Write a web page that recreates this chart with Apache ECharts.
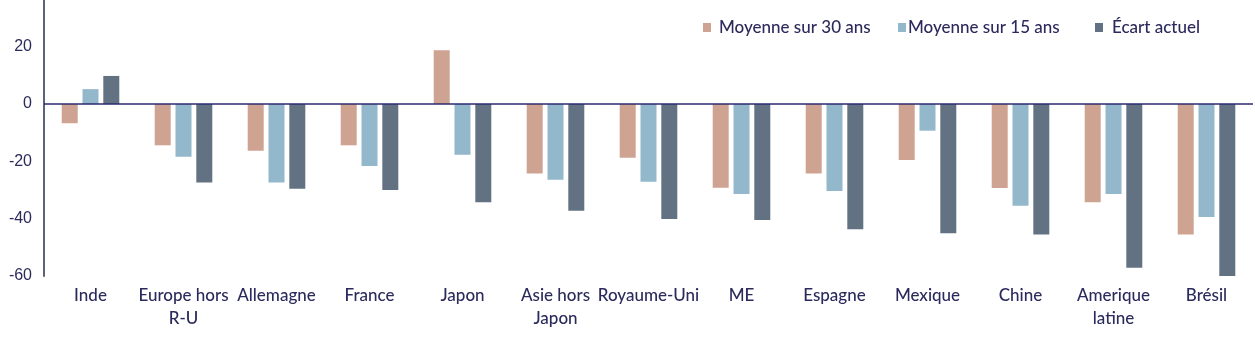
<!DOCTYPE html>
<html><head><meta charset="utf-8">
<script src="https://cdn.jsdelivr.net/npm/echarts@6/dist/echarts.min.js"></script>
<style>html,body{margin:0;padding:0;background:#fff}#c{width:1255px;height:360px}</style>
</head><body><div id="c"></div>
<script>
const categories = ["Inde","Europe hors\nR-U","Allemagne","France","Japon","Asie hors\nJapon","Royaume-Uni","ME","Espagne","Mexique","Chine","Amerique\nlatine","Brésil"];
const moy30 = [-6.7,-14.4,-16.3,-14.4,18.8,-24.2,-18.7,-29.2,-24.2,-19.5,-29.3,-34.3,-45.5];
const moy15 = [5.2,-18.4,-27.4,-21.6,-17.7,-26.4,-27.1,-31.4,-30.3,-9.3,-35.5,-31.4,-39.4];
const ecart = [9.8,-27.4,-29.6,-30,-34.3,-37.2,-40.1,-40.5,-43.7,-45.1,-45.5,-57.1,-60];
const yTicks = [-60,-40,-20,0,20];
const seriesNames = ["Moyenne sur 30 ans","Moyenne sur 15 ans","Écart actuel"];
const colors = ["#cfa392","#93b8cc","#627283"];
const FONT = "Lato";
const TXT = "#2b2a5c";
const chart = echarts.init(document.getElementById('c'));
const legendPos = [703, 898, 1095];
const legendTextPad = [3, -3, 4];
chart.setOption({
  animation:false,
  grid:{left:44,right:2,top:0,bottom:84,containLabel:false},
  legend: seriesNames.map((n,i)=>({
    data:[n], left:legendPos[i], top:19, padding:0, itemWidth:8, itemHeight:9, itemGap:0,
    icon:'rect', textStyle:{fontFamily:FONT,fontSize:17,color:TXT,fontWeight:500,padding:[0,0,0,legendTextPad[i]]}
  })),
  xAxis:{type:'category',data:categories,
    axisLine:{show:false},axisTick:{show:false},
    axisLabel:{fontFamily:FONT,fontSize:17,color:TXT,margin:8,lineHeight:23,interval:0,fontWeight:500}},
  yAxis:{type:'value',min:-60,max:36.3,interval:20,
    splitLine:{show:false},
    axisLine:{show:true,lineStyle:{color:'#5f5f7e',width:2}},
    axisTick:{show:false},
    axisLabel:{fontFamily:'Liberation Sans',fontSize:16,color:TXT,margin:12,
      formatter:v=>yTicks.includes(v)?String(v):''}},
  series:[
    {name:seriesNames[0],type:'bar',data:moy30,barWidth:16,barGap:'30%',itemStyle:{color:colors[0]},
     markLine:{silent:true,symbol:'none',label:{show:false},lineStyle:{color:'#2d2a6e',width:1.5,type:'solid'},data:[{yAxis:0}]}},
    {name:seriesNames[1],type:'bar',data:moy15,barWidth:16,barGap:'30%',itemStyle:{color:colors[1]}},
    {name:seriesNames[2],type:'bar',data:ecart,barWidth:16,barGap:'30%',itemStyle:{color:colors[2]}}
  ]
});
</script></body></html>
